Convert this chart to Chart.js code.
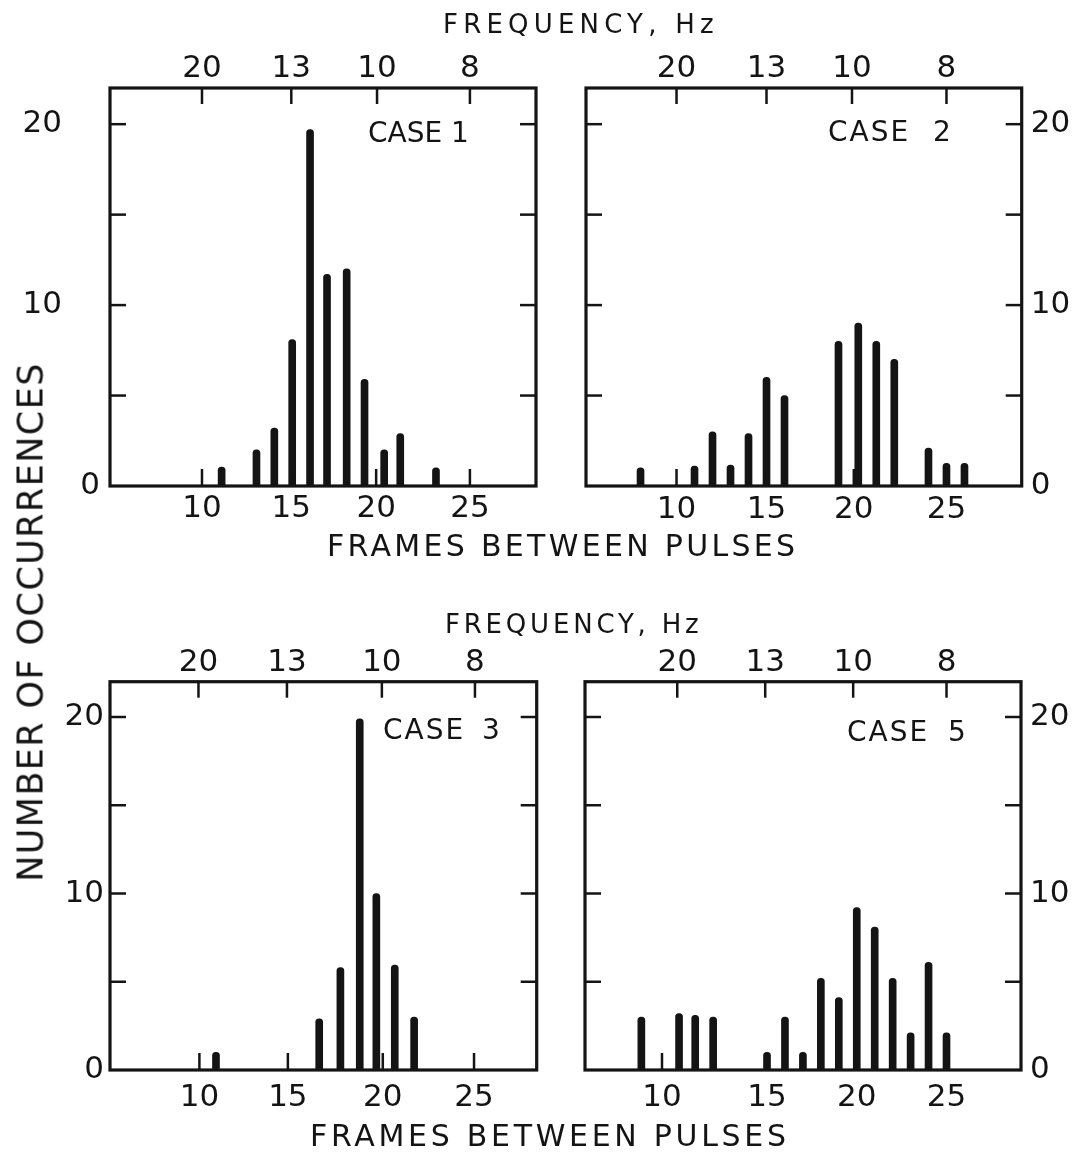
<!DOCTYPE html>
<html>
<head>
<meta charset="utf-8">
<script src="https://cdn.jsdelivr.net/npm/chart.js@4.4.1/dist/chart.umd.min.js"></script>
<style>
  body { margin: 0; background: #fff; }
  #page { position: relative; width: 1085px; height: 1154px; overflow: hidden; background: #fff; color: #141414; font-family: 'DejaVu Sans', sans-serif; }
  canvas { position: absolute; }
  .txt { position: absolute; white-space: nowrap; line-height: 1; }
</style>
</head>
<body>
<div id="page">
  <canvas id="case1" width="560" height="560" style="left:0;top:0"></canvas>
  <canvas id="case2" width="525" height="560" style="left:560px;top:0"></canvas>
  <canvas id="case3" width="560" height="574" style="left:0;top:580px"></canvas>
  <canvas id="case5" width="525" height="574" style="left:560px;top:580px"></canvas>

  <div class="txt" style="left:443px;top:11px;font-size:26px;letter-spacing:5.2px">FREQUENCY, Hz</div>
  <div class="txt" style="left:445px;top:611px;font-size:26px;letter-spacing:3.8px">FREQUENCY, Hz</div>
  <div class="txt" style="left:327px;top:531px;font-size:30px;letter-spacing:3.3px">FRAMES BETWEEN PULSES</div>
  <div class="txt" style="left:310px;top:1121px;font-size:30px;letter-spacing:3.7px">FRAMES BETWEEN PULSES</div>
  <div class="txt" style="left:31px;top:622px;font-size:35px;letter-spacing:1.4px;transform:translate(-50%,-50%) rotate(-90deg)">NUMBER OF OCCURRENCES</div>

  <div class="txt" style="left:368px;top:119px;font-size:28px">CASE 1</div>
  <div class="txt" style="left:828px;top:118px;font-size:28px;letter-spacing:2px;word-spacing:12px">CASE 2</div>
  <div class="txt" style="left:383px;top:716px;font-size:28px;letter-spacing:2px;word-spacing:6px">CASE 3</div>
  <div class="txt" style="left:847px;top:718px;font-size:28px;letter-spacing:2px;word-spacing:8px">CASE 5</div>
</div>
<script>
// frames between pulses (x) and number of occurrences (y)
const case1Frames = [11.1, 13.05, 14.05, 15.05, 16.05, 17, 18.1, 19.1, 20.2, 21.1, 23.1];
const case1Counts = [1.05, 2, 3.2, 8.1, 19.7, 11.7, 12, 5.9, 2, 2.9, 1];

const case2Frames = [8, 11, 12, 13, 14, 15, 16, 19, 20.1, 21.1, 22.1, 24, 25, 26];
const case2Counts = [1, 1.1, 3, 1.15, 2.9, 6, 5, 8, 9, 8, 7, 2.1, 1.25, 1.25];

const case3Frames = [10.95, 16.55, 17.7, 18.75, 19.65, 20.65, 21.7];
const case3Counts = [1, 2.9, 5.8, 19.9, 10, 5.95, 3];

const case5Frames = [8, 10.1, 11, 12, 15, 16, 17, 18, 19, 20, 21, 22, 23, 24, 25];
const case5Counts = [3, 3.2, 3.1, 3, 1, 3, 1, 5.2, 4.1, 9.2, 8.1, 5.2, 2.1, 6.1, 2.1];

// axis labels
const frameTickLabels = ['10', '15', '20', '25'];
const freqTickLabels = ['20', '13', '10', '8'];   // Hz, top axis
const countTickValues = [0, 10, 20];
const countMarkValues = [5, 10, 15, 20];          // inward marks on both sides

// hand-drawn tick positions (in frames) differ a little per panel
const case1BottomTicks = [10, 15, 19.75, 25];
const case1TopTicks = [10, 15, 19.8, 25];
const case2BottomTicks = [10, 15, 19.85, 25];
const case2TopTicks = [10, 15, 19.75, 25];
const case3BottomTicks = [10.05, 14.85, 20, 24.95];
const case3TopTicks = [10, 14.8, 19.95, 25];
const case5BottomTicks = [9.15, 15, 20, 25];
const case5TopTicks = [10, 14.9, 19.8, 25];

const ink = '#141414';
const tickFont = {family: 'DejaVu Sans', size: 31};

// frame box plus short inward tick marks
const framePlugin = {
  id: 'framePlugin',
  afterDraw(chart) {
    const {ctx, chartArea: a, scales} = chart;
    const line = (x1, y1, x2, y2) => { ctx.beginPath(); ctx.moveTo(x1, y1); ctx.lineTo(x2, y2); ctx.stroke(); };
    ctx.save();
    ctx.strokeStyle = ink;
    ctx.lineWidth = 2.5;
    countMarkValues.forEach(v => {
      const py = scales.y.getPixelForValue(v);
      line(a.left, py, a.left + 16, py);
      line(a.right, py, a.right - 16, py);
    });
    scales.x.ticks.forEach(t => {
      const px = scales.x.getPixelForValue(t.value);
      line(px, a.bottom, px, a.bottom - 17);
    });
    scales.xTop.ticks.forEach(t => {
      const px = scales.xTop.getPixelForValue(t.value);
      line(px, a.top, px, a.top + 16);
    });
    ctx.lineWidth = 3.2;
    ctx.strokeRect(a.left, a.top, a.width, a.height);
    ctx.restore();
  }
};

const valueScale = (position, values, labels, width, pad, extra) => Object.assign({
  type: 'linear', position: position, min: 0, max: 22,
  grid: {display: false, drawTicks: false}, border: {display: false},
  afterBuildTicks: s => { s.ticks = values.map(v => ({value: v})); },
  afterFit: s => { s.width = width; },
  ticks: {color: ink, font: tickFont, padding: pad, callback: (v, i) => labels[i]}
}, extra || {});

function buildPanel(canvasId, p) {
  const scales = {
    x: {
      type: 'linear', position: 'bottom', min: p.xMin, max: p.xMax, offset: false,
      grid: {display: false, drawTicks: false}, border: {display: false},
      afterBuildTicks: s => { s.ticks = p.bottomTicks.map(v => ({value: v})); },
      afterFit: s => { s.height = p.bottomH; },
      ticks: {autoSkip: false, maxRotation: 0, minRotation: 0, color: ink, font: tickFont,
              padding: p.bottomPad, callback: (v, i) => frameTickLabels[i]}
    },
    xTop: {
      type: 'linear', position: 'top', min: p.xMin, max: p.xMax, offset: false,
      grid: {display: false, drawTicks: false}, border: {display: false},
      afterBuildTicks: s => { s.ticks = p.topTicks.map(v => ({value: v})); },
      afterFit: s => { s.height = p.topH; },
      ticks: {autoSkip: false, maxRotation: 0, minRotation: 0, color: ink, font: tickFont,
              padding: 0, callback: (v, i) => freqTickLabels[i]}
    }
  };
  Object.assign(scales, p.yScales);

  return new Chart(document.getElementById(canvasId), {
    type: 'bar',
    data: {
      datasets: [{
        data: p.frames.map((f, i) => ({x: f, y: p.counts[i]})),
        backgroundColor: ink,
        barThickness: 7,
        borderSkipped: 'start',
        borderRadius: {topLeft: 3.5, topRight: 3.5, bottomLeft: 0, bottomRight: 0}
      }]
    },
    options: {
      responsive: false,
      devicePixelRatio: 1,
      animation: false,
      layout: {padding: p.padding},
      plugins: {legend: {display: false}, tooltip: {enabled: false}},
      scales: scales
    },
    plugins: [framePlugin]
  });
}

buildPanel('case1', {
  frames: case1Frames, counts: case1Counts, xMin: 4.85, xMax: 28.7,
  bottomTicks: case1BottomTicks, topTicks: case1TopTicks,
  topH: 88, bottomH: 74, bottomPad: 4,
  padding: {left: 0, right: 24, top: 0, bottom: 0},
  yScales: {
    y: valueScale('left', [0], ['0'], 40, 10),
    yOut: valueScale('left', [10, 20], ['10', '20'], 70, 8, {weight: 1})
  }
});

buildPanel('case2', {
  frames: case2Frames, counts: case2Counts, xMin: 4.97, xMax: 29.18,
  bottomTicks: case2BottomTicks, topTicks: case2TopTicks,
  topH: 88, bottomH: 74, bottomPad: 5,
  padding: {left: 26, right: 0, top: 0, bottom: 0},
  yScales: {y: valueScale('right', countTickValues, ['0', '10', '20'], 63.3, 9)}
});

buildPanel('case3', {
  frames: case3Frames, counts: case3Counts, xMin: 5.2, xMax: 28.35,
  bottomTicks: case3BottomTicks, topTicks: case3TopTicks,
  topH: 101.7, bottomH: 84, bottomPad: 9,
  padding: {left: 0, right: 23.3, top: 0, bottom: 0},
  yScales: {y: valueScale('left', countTickValues, ['0', '10', '20'], 110, 6)}
});

buildPanel('case5', {
  frames: case5Frames, counts: case5Counts, xMin: 4.86, xMax: 29.15,
  bottomTicks: case5BottomTicks, topTicks: case5TopTicks,
  topH: 101.7, bottomH: 84, bottomPad: 9,
  padding: {left: 25, right: 0, top: 0, bottom: 0},
  yScales: {y: valueScale('right', countTickValues, ['0', '10', '20'], 64, 9)}
});
</script>
</body>
</html>
